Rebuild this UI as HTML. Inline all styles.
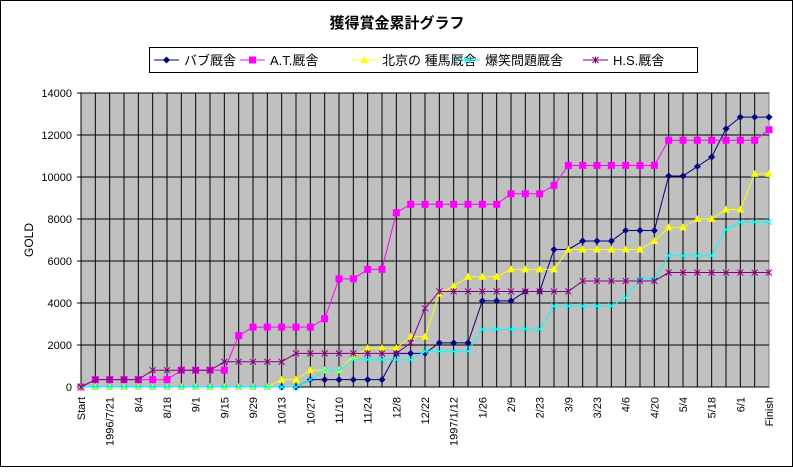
<!DOCTYPE html>
<html><head><meta charset="utf-8"><style>
body{margin:0;background:#fff}
svg text{font-family:"Liberation Sans","Noto Sans CJK JP",sans-serif}
</style></head><body>
<svg id="c" width="793" height="468" xmlns="http://www.w3.org/2000/svg">
<rect x="0.5" y="0.5" width="792" height="466" fill="#fff" stroke="#000"/>
<text x="397" y="28" font-size="15" text-anchor="middle" font-weight="bold">獲得賞金累計グラフ</text>
<text transform="translate(33,240) rotate(-90)" font-size="12" text-anchor="middle">GOLD</text>
<g id="plot"></g>
<g id="legend"></g>
</svg>
<script>
const categories=["Start","","1996/7/21","","8/4","","8/18","","9/1","","9/15","","9/29","","10/13","","10/27","","11/10","","11/24","","12/8","","12/22","","1997/1/12","","1/26","","2/9","","2/23","","3/9","","3/23","","4/6","","4/20","","5/4","","5/18","","6/1","","Finish"];
const yTicks=[0,2000,4000,6000,8000,10000,12000,14000];
const seriesNames=["バブ厩舎","A.T.厩舎","北京の 種馬厩舎","爆笑問題厩舎","H.S.厩舎"];
const bubu=[0,0,0,0,0,0,0,0,0,0,0,0,0,0,0,0,350,350,350,350,350,350,1600,1600,1600,2100,2100,2100,4100,4100,4100,4550,4550,6550,6550,6950,6950,6950,7450,7450,7450,10050,10050,10500,10950,12300,12850,12850,12850];
const at=[0,350,350,350,350,350,350,800,800,800,800,2450,2850,2850,2850,2850,2850,3250,5150,5150,5600,5600,8300,8700,8700,8700,8700,8700,8700,8700,9200,9200,9200,9600,10550,10550,10550,10550,10550,10550,10550,11750,11750,11750,11750,11750,11750,11750,12250];
const pekin=[0,0,0,0,0,0,0,0,0,0,0,0,0,0,350,350,800,800,800,1450,1850,1850,1850,2400,2400,4450,4800,5250,5250,5250,5600,5600,5600,5600,6550,6550,6550,6550,6550,6550,6950,7600,7600,8000,8000,8450,8450,10150,10150];
const bakusho=[0,0,0,0,0,0,0,0,0,0,0,0,0,0,0,0,350,800,800,1300,1300,1300,1300,1300,1700,1700,1700,1700,2750,2750,2750,2750,2750,3850,3850,3850,3850,3850,4250,5150,5150,6250,6250,6250,6250,7500,7850,7850,7850];
const hs=[0,350,350,350,350,800,800,800,800,800,1200,1200,1200,1200,1200,1600,1600,1600,1600,1600,1600,1600,1600,2100,3750,4550,4550,4550,4550,4550,4550,4550,4550,4550,4550,5050,5050,5050,5050,5050,5050,5450,5450,5450,5450,5450,5450,5450,5450];
const seriesData=[bubu,at,pekin,bakusho,hs];
const colors=["#000080","#ff00ff","#ffff00","#00ffff","#800080"];
const markers=["diamond","square","triangle","x","star"];
const NS="http://www.w3.org/2000/svg";
const X0=81,X1=769,Y0=387,Y1=93,YMAX=14000;
const xs=i=>X0+(X1-X0)*i/(categories.length-1);
const ys=v=>Y0-(Y0-Y1)*v/YMAX;
function mk(t,a,p){const e=document.createElementNS(NS,t);for(const k in a)e.setAttribute(k,a[k]);p.appendChild(e);return e;}
const plot=document.getElementById('plot');
const bg=mk('rect',{x:X0,y:Y1,width:X1-X0,height:Y0-Y1,fill:'#c0c0c0',stroke:'#808080'},plot);


categories.forEach((c,i)=>{
  if(i>0&&i<categories.length-1){const g=mk('line',{x1:xs(i),x2:xs(i),y1:Y1,y2:Y0,stroke:'#000','stroke-width':1},plot);
  
  }
  if(c){const t=mk('text',{transform:`translate(${xs(i)+4},${Y0+10}) rotate(-90)`,'font-size':11,'text-anchor':'end'},plot);t.textContent=c;
  
  }
});
yTicks.forEach(v=>{
  const g=mk('line',{x1:X0-4,x2:X1,y1:ys(v),y2:ys(v),stroke:'#000','stroke-width':1},plot);
  
  
  const t=mk('text',{x:72,y:ys(v)+4,'font-size':11,'text-anchor':'end'},plot);t.textContent=v;
  
  
});
mk('line',{x1:X0,x2:X0,y1:Y1,y2:Y0,stroke:'#000'},plot);
function marker(type,x,y,col,p){
  let e;
  if(type==='diamond')e=mk('polygon',{points:`${x},${y-3.5} ${x+3.5},${y} ${x},${y+3.5} ${x-3.5},${y}`,fill:col},p);
  else if(type==='square')e=mk('rect',{x:x-3.5,y:y-3.5,width:7,height:7,fill:col},p);
  else if(type==='triangle')e=mk('polygon',{points:`${x},${y-4} ${x+4},${y+3} ${x-4},${y+3}`,fill:col},p);
  else if(type==='x')e=mk('path',{d:`M${x-3},${y-3}L${x+3},${y+3}M${x+3},${y-3}L${x-3},${y+3}`,stroke:col,'stroke-width':1},p);
  else e=mk('path',{d:`M${x-3},${y-3}L${x+3},${y+3}M${x+3},${y-3}L${x-3},${y+3}M${x},${y-3.5}L${x},${y+3.5}`,stroke:col,'stroke-width':1},p);
  return e;
}
seriesData.forEach((d,s)=>{
  const g=mk('g',{},plot);
  
  
  const pl=mk('polyline',{points:d.map((v,i)=>xs(i)+','+ys(v)).join(' '),fill:'none',stroke:colors[s],'stroke-width':1},g);
  
  
  d.forEach((v,i)=>{const m=marker(markers[s],xs(i),ys(v),colors[s],g);
    
    });
});
const lg=document.getElementById('legend');
const lb=mk('rect',{x:149.5,y:47.5,width:548,height:25,fill:'#fff',stroke:'#000'},lg);


const lx=[154,240,352,455,583];
seriesNames.forEach((n,s)=>{
  const g=mk('g',{},lg);
  
  
  mk('line',{x1:lx[s],x2:lx[s]+25,y1:60,y2:60,stroke:colors[s]},g);
  marker(markers[s],lx[s]+12.5,60,colors[s],g);
  const t=mk('text',{x:lx[s]+30,y:65,'font-size':13},g);t.textContent=n;
});
</script>
</body></html>
